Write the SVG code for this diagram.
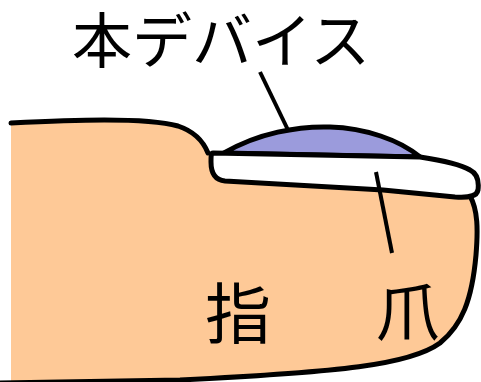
<svg xmlns="http://www.w3.org/2000/svg" width="481" height="382" viewBox="0 0 481 382">
  <style>
    .outline { stroke: #000; stroke-width: 5; stroke-linejoin: round; stroke-linecap: round; }
    .lead { stroke: #000; stroke-width: 4; fill: none; }
    .label { font-family: "Noto Sans CJK JP", "Noto Sans", sans-serif; fill: #000; }
  </style>

  <!-- finger -->
  <g id="finger">
    <path d="M 11 123 C 70 120, 145 117, 178 126 C 196 132, 204 143, 208 153 L 470 195 C 478 210, 478 230, 476 255 C 472 300, 462 325, 440 343 C 410 365, 340 372, 180 380 L 11 384 Z" fill="#fec997"/>
    <path class="outline" fill="none" d="M 11 123 C 70 120, 145 117, 178 126 C 196 132, 204 143, 208 153 M 470 196 C 478 210, 478 230, 476 255 C 472 300, 462 325, 440 343 C 410 365, 340 372, 180 380 L 0 383"/>
  </g>

  <!-- device on the nail -->
  <g id="device">
    <path class="outline" fill="#9b9bdc" d="M 224 153 C 258 133, 298 126, 330 127 C 365 128, 400 140, 420 157 Z"/>
  </g>

  <!-- nail -->
  <g id="nail">
    <path class="outline" fill="#fff" d="M 213 153 L 420 157 C 440 160, 460 164, 470 170 C 478 174, 479 182, 478 190 C 477 196, 470 198, 455 197 L 383 190 L 225 181 C 214 180, 211 172, 211 162 C 211 156, 211 153, 213 153 Z"/>
  </g>

  <!-- leader lines -->
  <g id="connectors">
    <line class="lead" x1="260" y1="72" x2="288" y2="130"/>
    <line class="lead" x1="376" y1="172" x2="392" y2="253"/>
  </g>

  <g id="label-device">
    <text class="label" x="72" y="63" font-size="60">本デバイス</text>
  </g>
  <g id="label-finger">
    <text class="label" x="238" y="338" font-size="66" text-anchor="middle">指</text>
  </g>
  <g id="label-nail">
    <text class="label" x="408" y="335" font-size="64" text-anchor="middle">爪</text>
  </g>
</svg>
